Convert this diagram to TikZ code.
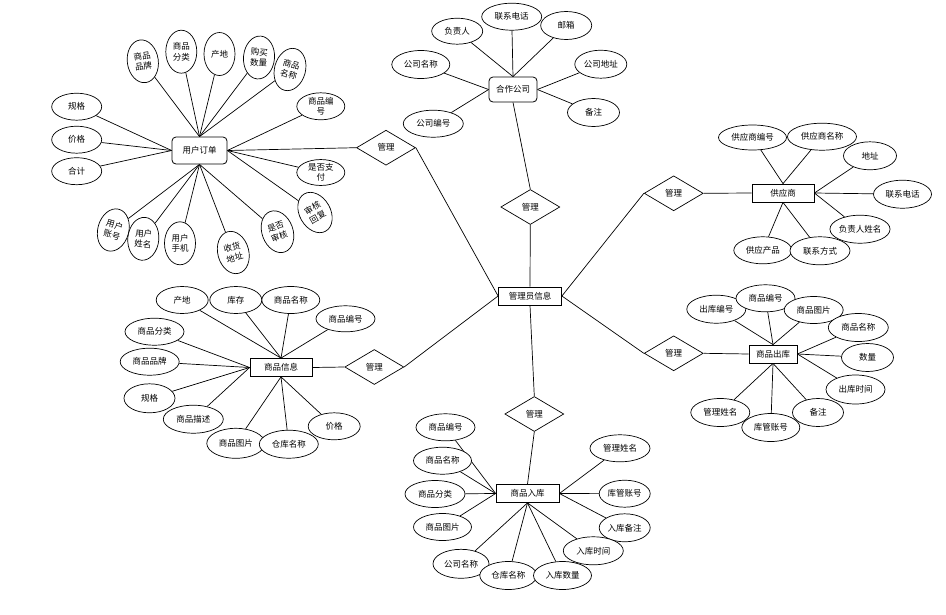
\documentclass[tikz,border=0pt]{standalone}
\usepackage{fontspec}
\setmainfont{Noto Sans CJK SC}
\usetikzlibrary{shapes.geometric,backgrounds}
\begin{document}
\begin{tikzpicture}[x=1pt,y=-1pt,
  font=\fontsize{8.5}{10.5}\selectfont,
  ent/.style={draw, rectangle, fill=white, inner sep=0pt, minimum height=18pt, line width=0.8pt},
  rent/.style={ent, rounded corners=4pt},
  rel/.style={draw, diamond, fill=white, inner sep=0pt, minimum width=59pt, minimum height=35pt, line width=0.7pt},
  attr/.style={draw, ellipse, fill=white, inner sep=0pt, minimum width=58pt, minimum height=27pt, line width=0.7pt, align=center},
  vattr/.style={attr, minimum width=31pt, minimum height=43pt},
  conn/.style={line width=0.7pt}]
\useasboundingbox (0,0) rectangle (946,614);

% ---- entities
\node[ent, minimum width=63pt] (c) at (530,296) {管理员信息};
\node[rent, minimum width=55pt, minimum height=27pt] (uo) at (199.5,150.5) {用户订单};
\node[rent, minimum width=48pt, minimum height=25pt] (hz) at (513,89.5) {合作公司};
\node[ent, minimum width=62pt] (gys) at (783,193) {供应商};
\node[ent, minimum width=62pt] (sp) at (281,367.5) {商品信息};
\node[ent, minimum width=48pt] (ck) at (773,354) {商品出库};
\node[ent, minimum width=63pt] (rk) at (527.5,493.5) {商品入库};

% ---- relations
\node[rel] (d1) at (386,147.7) {管理};
\node[rel] (d2) at (530.3,207) {管理};
\node[rel] (d3) at (673.7,193.3) {管理};
\node[rel] (d4) at (673.7,353.3) {管理};
\node[rel] (d5) at (374.3,367) {管理};
\node[rel] (d6) at (534.3,414) {管理};

% ---- 用户订单 attributes
\node[vattr, rotate=8] (u1) at (142.8,61.3) {商品\\品牌};
\node[vattr] (u2) at (181.3,51.7) {商品\\分类};
\node[vattr] (u3) at (219.5,54) {产地};
\node[vattr, rotate=-5] (u4) at (259,57.5) {购买\\数量};
\node[vattr, rotate=-15] (u5) at (290,69.5) {商品\\名称};
\node[attr, minimum width=48pt] (u6) at (320.8,106.3) {商品编\\号};
\node[attr, minimum width=48pt, minimum height=25pt] (u7) at (320.8,172.5) {是否支\\付};
\node[vattr, rotate=30] (u8) at (315,212.5) {审核\\回复};
\node[vattr, rotate=20] (u9) at (277.5,231.7) {是否\\审核};
\node[vattr, rotate=15] (u10) at (233.3,252.5) {收货\\地址};
\node[vattr] (u11) at (180,243.3) {用户\\手机};
\node[vattr, rotate=-5] (u12) at (143.3,238.8) {用户\\姓名};
\node[vattr, rotate=-15] (u13) at (113.3,230) {用户\\账号};
\node[attr, minimum width=50pt] (u14) at (76.7,106.7) {规格};
\node[attr, minimum width=50pt] (u15) at (76.7,139.7) {价格};
\node[attr, minimum width=50pt] (u16) at (76.7,171.2) {合计};

% ---- 合作公司 attributes
\node[attr, minimum width=51pt, minimum height=26pt] (h1) at (457.2,31.2) {负责人};
\node[attr, minimum width=51pt, minimum height=28pt] (h3) at (566.2,25.5) {邮箱};
\node[attr, minimum width=60pt] (h2) at (511.7,16.7) {联系电话};
\node[attr, minimum width=58pt, minimum height=28pt] (h4) at (420.8,64.5) {公司名称};
\node[attr, minimum width=60pt] (h5) at (433.3,123.7) {公司编号};
\node[attr, minimum width=52pt, minimum height=28pt] (h6) at (600.8,64.2) {公司地址};
\node[attr, minimum width=52pt, minimum height=28pt] (h7) at (593.5,112.5) {备注};

% ---- 供应商 attributes
\node[attr, minimum width=68pt, minimum height=25pt] (g1) at (752.5,137.5) {供应商编号};
\node[attr, minimum width=69pt] (g2) at (822,136.7) {供应商名称};
\node[attr, minimum width=53pt, minimum height=28pt] (g3) at (870,155.8) {地址};
\node[attr, minimum width=58pt, minimum height=28pt] (g4) at (902.5,194.2) {联系电话};
\node[attr, minimum width=60pt, minimum height=28pt] (g5) at (860,229.2) {负责人姓名};
\node[attr, minimum width=58pt] (g7) at (762.8,250.3) {供应产品};
\node[attr, minimum width=60pt, minimum height=28pt] (g6) at (820,250.8) {联系方式};

% ---- 商品信息 attributes
\node[attr, minimum width=52pt] (s1) at (182.2,300) {产地};
\node[attr, minimum width=52pt] (s2) at (235.8,300) {库存};
\node[attr] (s3) at (290.8,300) {商品名称};
\node[attr, minimum width=59pt, minimum height=26pt] (s4) at (345.5,318.8) {商品编号};
\node[attr, minimum width=59pt] (s5) at (154.5,331.7) {商品分类};
\node[attr, minimum width=59pt] (s6) at (149.7,361.7) {商品品牌};
\node[attr, minimum width=51pt, minimum height=29pt] (s7) at (149.5,398.3) {规格};
\node[attr, minimum width=60pt, minimum height=28pt] (s8) at (193.3,419.2) {商品描述};
\node[attr, minimum width=52pt] (s11) at (334.2,426.3) {价格};
\node[attr, minimum height=30pt] (s9) at (235.8,443.3) {商品图片};
\node[attr, minimum width=59pt, minimum height=28pt] (s10) at (288.8,444.2) {仓库名称};

% ---- 商品出库 attributes
\node[attr, minimum width=59pt, minimum height=28pt] (k1) at (716.3,309.2) {出库编号};
\node[attr, minimum width=59pt] (k2) at (765.5,298.3) {商品编号};
\node[attr, minimum width=59pt] (k3) at (813.7,310) {商品图片};
\node[attr, minimum width=60pt, minimum height=28pt] (k4) at (858.3,327.5) {商品名称};
\node[attr, minimum width=52pt, minimum height=28pt] (k5) at (867.5,357.5) {数量};
\node[attr, minimum width=59pt, minimum height=29pt] (k6) at (855.5,389.5) {出库时间};
\node[attr, minimum width=59pt, minimum height=28pt] (k9) at (720.3,412.5) {管理姓名};
\node[attr, minimum width=51pt, minimum height=28pt] (k7) at (818,412.5) {备注};
\node[attr, minimum height=28pt] (k8) at (770.8,427.5) {库管账号};

% ---- 商品入库 attributes
\node[attr, minimum width=59pt] (r1) at (445.5,427.3) {商品编号};
\node[attr] (r2) at (442.5,460.7) {商品名称};
\node[attr, minimum width=60pt] (r3) at (435,494) {商品分类};
\node[attr] (r4) at (442.5,527) {商品图片};
\node[attr, minimum width=60pt] (r5) at (620,448.3) {管理姓名};
\node[attr, minimum width=51pt] (r6) at (624.7,493.7) {库管账号};
\node[attr, minimum width=51pt, minimum height=28pt] (r7) at (624.7,527.8) {入库备注};
\node[attr, minimum width=60pt, minimum height=28pt] (r11) at (593.3,550.8) {入库时间};
\node[attr, minimum width=56pt, minimum height=29pt] (r8) at (461,563.8) {公司名称};
\node[attr, minimum width=57pt, minimum height=28pt] (r9) at (508.3,575.5) {仓库名称};
\node[attr, minimum height=28pt] (r10) at (562.5,575.5) {入库数量};

% ---- connectors
\begin{pgfonlayer}{background}
\draw[conn] (uo.east) -- (d1.west) (d1.east) -- (c.west);
\draw[conn] (hz.south) -- (d2.north) (d2.south) -- (c.north);
\draw[conn] (c.east) -- (d3.west) (d3.east) -- (gys.west);
\draw[conn] (c.east) -- (d4.west) (d4.east) -- (ck.west);
\draw[conn] (sp.east) -- (d5.west) (d5.east) -- (c.west);
\draw[conn] (c.south) -- (d6.north) (d6.south) -- (rk.north);

\foreach \i in {1,...,5} \draw[conn] (uo.north) -- (u\i);
\foreach \i in {6,7,8} \draw[conn] (uo.east) -- (u\i);
\foreach \i in {9,...,13} \draw[conn] (uo.south) -- (u\i);
\foreach \i in {14,15,16} \draw[conn] (uo.west) -- (u\i);

\foreach \i in {1,2,3} \draw[conn] (hz.north) -- (h\i);
\foreach \i in {4,5} \draw[conn] (hz.west) -- (h\i);
\foreach \i in {6,7} \draw[conn] (hz.east) -- (h\i);

\foreach \i in {1,2} \draw[conn] (gys.north) -- (g\i);
\foreach \i in {3,4,5} \draw[conn] (gys.east) -- (g\i);
\foreach \i in {6,7} \draw[conn] (gys.south) -- (g\i);

\foreach \i in {1,...,4} \draw[conn] (sp.north) -- (s\i);
\foreach \i in {5,...,8} \draw[conn] (sp.west) -- (s\i);
\foreach \i in {9,10,11} \draw[conn] (sp.south) -- (s\i);

\foreach \i in {1,2,3} \draw[conn] (ck.north) -- (k\i);
\foreach \i in {4,5,6} \draw[conn] (ck.east) -- (k\i);
\foreach \i in {7,8,9} \draw[conn] (ck.south) -- (k\i);

\foreach \i in {1,...,4} \draw[conn] (rk.west) -- (r\i);
\foreach \i in {5,6,7} \draw[conn] (rk.east) -- (r\i);
\foreach \i in {8,...,11} \draw[conn] (rk.south) -- (r\i);
\end{pgfonlayer}
\end{tikzpicture}
\end{document}
